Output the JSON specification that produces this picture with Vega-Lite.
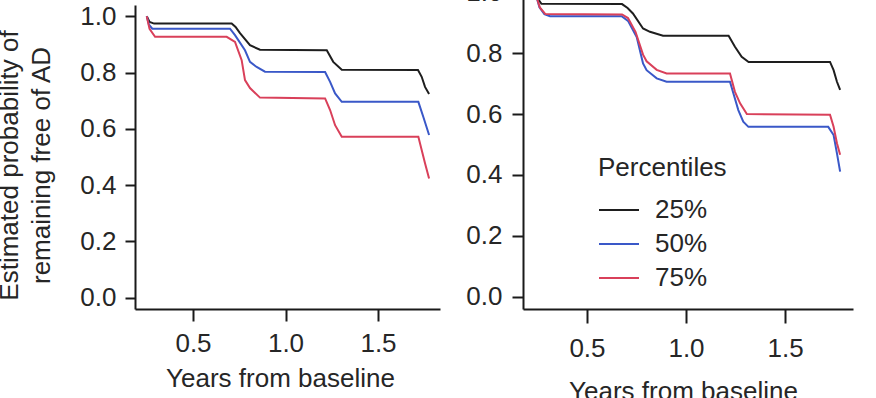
{
  "$schema": "https://vega.github.io/schema/vega-lite/v6.json",
  "autosize": "none",
  "width": 718,
  "height": 304,
  "padding": {"left": 135, "top": 5, "right": 23, "bottom": 89},
  "background": "white",
  "config": {
    "view": {"stroke": null},
    "font": "Liberation Sans",
    "axis": {
      "grid": false,
      "domainColor": "#1a1a1a",
      "domainWidth": 2,
      "tickColor": "#1a1a1a",
      "tickWidth": 2,
      "labelFont": "Liberation Sans",
      "labelFontSize": 26,
      "labelColor": "#262626",
      "titleFont": "Liberation Sans",
      "titleFontSize": 26,
      "titleFontWeight": "normal",
      "titleColor": "#262626"
    }
  },
  "datasets": {
    "curves": [
      {"panel": "A", "pct": "25%", "x": 0.25, "y": 1.0},
      {"panel": "A", "pct": "25%", "x": 0.265, "y": 0.98},
      {"panel": "A", "pct": "25%", "x": 0.29, "y": 0.974},
      {"panel": "A", "pct": "25%", "x": 0.709, "y": 0.974},
      {"panel": "A", "pct": "25%", "x": 0.73, "y": 0.962},
      {"panel": "A", "pct": "25%", "x": 0.754, "y": 0.94},
      {"panel": "A", "pct": "25%", "x": 0.808, "y": 0.897},
      {"panel": "A", "pct": "25%", "x": 0.862, "y": 0.881},
      {"panel": "A", "pct": "25%", "x": 1.223, "y": 0.879},
      {"panel": "A", "pct": "25%", "x": 1.258, "y": 0.838},
      {"panel": "A", "pct": "25%", "x": 1.304, "y": 0.81},
      {"panel": "A", "pct": "25%", "x": 1.716, "y": 0.809},
      {"panel": "A", "pct": "25%", "x": 1.736, "y": 0.785},
      {"panel": "A", "pct": "25%", "x": 1.754, "y": 0.749},
      {"panel": "A", "pct": "25%", "x": 1.776, "y": 0.724},

      {"panel": "A", "pct": "50%", "x": 0.25, "y": 1.0},
      {"panel": "A", "pct": "50%", "x": 0.262, "y": 0.97},
      {"panel": "A", "pct": "50%", "x": 0.28, "y": 0.956},
      {"panel": "A", "pct": "50%", "x": 0.7, "y": 0.956},
      {"panel": "A", "pct": "50%", "x": 0.727, "y": 0.933},
      {"panel": "A", "pct": "50%", "x": 0.781, "y": 0.879},
      {"panel": "A", "pct": "50%", "x": 0.808, "y": 0.838},
      {"panel": "A", "pct": "50%", "x": 0.844, "y": 0.82},
      {"panel": "A", "pct": "50%", "x": 0.889, "y": 0.803},
      {"panel": "A", "pct": "50%", "x": 1.214, "y": 0.802},
      {"panel": "A", "pct": "50%", "x": 1.241, "y": 0.767},
      {"panel": "A", "pct": "50%", "x": 1.268, "y": 0.726},
      {"panel": "A", "pct": "50%", "x": 1.304, "y": 0.696},
      {"panel": "A", "pct": "50%", "x": 1.718, "y": 0.696},
      {"panel": "A", "pct": "50%", "x": 1.745, "y": 0.642},
      {"panel": "A", "pct": "50%", "x": 1.776, "y": 0.578},

      {"panel": "A", "pct": "75%", "x": 0.25, "y": 1.0},
      {"panel": "A", "pct": "75%", "x": 0.265, "y": 0.955},
      {"panel": "A", "pct": "75%", "x": 0.295, "y": 0.927},
      {"panel": "A", "pct": "75%", "x": 0.682, "y": 0.927},
      {"panel": "A", "pct": "75%", "x": 0.727, "y": 0.909},
      {"panel": "A", "pct": "75%", "x": 0.763, "y": 0.844},
      {"panel": "A", "pct": "75%", "x": 0.781, "y": 0.773},
      {"panel": "A", "pct": "75%", "x": 0.808, "y": 0.745},
      {"panel": "A", "pct": "75%", "x": 0.862, "y": 0.711},
      {"panel": "A", "pct": "75%", "x": 1.214, "y": 0.708},
      {"panel": "A", "pct": "75%", "x": 1.241, "y": 0.667},
      {"panel": "A", "pct": "75%", "x": 1.268, "y": 0.613},
      {"panel": "A", "pct": "75%", "x": 1.304, "y": 0.572},
      {"panel": "A", "pct": "75%", "x": 1.718, "y": 0.572},
      {"panel": "A", "pct": "75%", "x": 1.736, "y": 0.525},
      {"panel": "A", "pct": "75%", "x": 1.754, "y": 0.478},
      {"panel": "A", "pct": "75%", "x": 1.776, "y": 0.424},

      {"panel": "B", "pct": "25%", "x": 0.245, "y": 0.985},
      {"panel": "B", "pct": "25%", "x": 0.27, "y": 0.962},
      {"panel": "B", "pct": "25%", "x": 0.677, "y": 0.961},
      {"panel": "B", "pct": "25%", "x": 0.705, "y": 0.948},
      {"panel": "B", "pct": "25%", "x": 0.732, "y": 0.93},
      {"panel": "B", "pct": "25%", "x": 0.783, "y": 0.881},
      {"panel": "B", "pct": "25%", "x": 0.818, "y": 0.87},
      {"panel": "B", "pct": "25%", "x": 0.884, "y": 0.857},
      {"panel": "B", "pct": "25%", "x": 1.215, "y": 0.857},
      {"panel": "B", "pct": "25%", "x": 1.247, "y": 0.821},
      {"panel": "B", "pct": "25%", "x": 1.281, "y": 0.788},
      {"panel": "B", "pct": "25%", "x": 1.316, "y": 0.771},
      {"panel": "B", "pct": "25%", "x": 1.727, "y": 0.771},
      {"panel": "B", "pct": "25%", "x": 1.745, "y": 0.744},
      {"panel": "B", "pct": "25%", "x": 1.762, "y": 0.706},
      {"panel": "B", "pct": "25%", "x": 1.778, "y": 0.679},

      {"panel": "B", "pct": "50%", "x": 0.245, "y": 0.985},
      {"panel": "B", "pct": "50%", "x": 0.26, "y": 0.95},
      {"panel": "B", "pct": "50%", "x": 0.285, "y": 0.928},
      {"panel": "B", "pct": "50%", "x": 0.313, "y": 0.921},
      {"panel": "B", "pct": "50%", "x": 0.675, "y": 0.921},
      {"panel": "B", "pct": "50%", "x": 0.707, "y": 0.906},
      {"panel": "B", "pct": "50%", "x": 0.751, "y": 0.853},
      {"panel": "B", "pct": "50%", "x": 0.783, "y": 0.766},
      {"panel": "B", "pct": "50%", "x": 0.801, "y": 0.744},
      {"panel": "B", "pct": "50%", "x": 0.852, "y": 0.717},
      {"panel": "B", "pct": "50%", "x": 0.902, "y": 0.706},
      {"panel": "B", "pct": "50%", "x": 1.222, "y": 0.706},
      {"panel": "B", "pct": "50%", "x": 1.239, "y": 0.668},
      {"panel": "B", "pct": "50%", "x": 1.264, "y": 0.613},
      {"panel": "B", "pct": "50%", "x": 1.289, "y": 0.575},
      {"panel": "B", "pct": "50%", "x": 1.315, "y": 0.558},
      {"panel": "B", "pct": "50%", "x": 1.718, "y": 0.558},
      {"panel": "B", "pct": "50%", "x": 1.745, "y": 0.531},
      {"panel": "B", "pct": "50%", "x": 1.762, "y": 0.471},
      {"panel": "B", "pct": "50%", "x": 1.778, "y": 0.411},

      {"panel": "B", "pct": "75%", "x": 0.245, "y": 0.985},
      {"panel": "B", "pct": "75%", "x": 0.262, "y": 0.95},
      {"panel": "B", "pct": "75%", "x": 0.29, "y": 0.928},
      {"panel": "B", "pct": "75%", "x": 0.677, "y": 0.927},
      {"panel": "B", "pct": "75%", "x": 0.707, "y": 0.915},
      {"panel": "B", "pct": "75%", "x": 0.745, "y": 0.87},
      {"panel": "B", "pct": "75%", "x": 0.783, "y": 0.795},
      {"panel": "B", "pct": "75%", "x": 0.801, "y": 0.773},
      {"panel": "B", "pct": "75%", "x": 0.852, "y": 0.745},
      {"panel": "B", "pct": "75%", "x": 0.902, "y": 0.733},
      {"panel": "B", "pct": "75%", "x": 1.222, "y": 0.733},
      {"panel": "B", "pct": "75%", "x": 1.247, "y": 0.673},
      {"panel": "B", "pct": "75%", "x": 1.273, "y": 0.635},
      {"panel": "B", "pct": "75%", "x": 1.307, "y": 0.6},
      {"panel": "B", "pct": "75%", "x": 1.727, "y": 0.598},
      {"panel": "B", "pct": "75%", "x": 1.745, "y": 0.558},
      {"panel": "B", "pct": "75%", "x": 1.762, "y": 0.504},
      {"panel": "B", "pct": "75%", "x": 1.778, "y": 0.466}
    ]
  },
  "data": {"name": "curves"},
  "layer": [
    {
      "transform": [{"filter": "datum.panel === 'A'"}],
      "mark": {"type": "line", "strokeWidth": 2},
      "encoding": {
        "x": {
          "field": "x",
          "type": "quantitative",
          "scale": {"domain": [0.1865, 1.835], "nice": false, "zero": false, "range": [0, 305]},
          "axis": {
            "orient": "bottom",
            "values": [0.5, 1.0, 1.5],
            "format": ".1f",
            "tickSize": 12,
            "labelPadding": 9,
            "title": "Years from baseline",
            "titleX": 145,
            "titleY": 56,
            "titleBaseline": "top",
            "titleAnchor": null
          }
        },
        "y": {
          "field": "y",
          "type": "quantitative",
          "scale": {"domain": [-0.04, 1.04], "nice": false, "zero": false, "range": [304, 0]},
          "axis": {
            "orient": "left",
            "values": [0, 0.2, 0.4, 0.6, 0.8, 1.0],
            "format": ".1f",
            "tickSize": 10,
            "labelPadding": 9,
            "title": ["Estimated probability of", "remaining free of AD"],
            "titleX": -118,
            "titleY": 160,
            "titleAngle": -90,
            "titleAlign": "center",
            "titleBaseline": "alphabetic",
            "titleLineHeight": 32
          }
        },
        "color": {
          "field": "pct",
          "type": "nominal",
          "scale": {"domain": ["25%", "50%", "75%"], "range": ["#1e1e1e", "#3a58c8", "#d9405a"]},
          "legend": {
            "title": "Percentiles",
            "orient": "none",
            "legendX": 463,
            "legendY": 150,
            "padding": 0,
            "titleFont": "Liberation Sans",
            "titleFontSize": 26,
            "titleFontWeight": "normal",
            "titleColor": "#262626",
            "titlePadding": 8,
            "labelFont": "Liberation Sans",
            "labelFontSize": 26,
            "labelColor": "#262626",
            "labelOffset": 15,
            "symbolType": "stroke",
            "symbolSize": 1600,
            "symbolStrokeWidth": 2,
            "rowPadding": -11
          }
        },
        "order": {"field": "x", "type": "quantitative"}
      }
    },
    {
      "transform": [{"filter": "datum.panel === 'B'"}],
      "mark": {"type": "line", "strokeWidth": 2},
      "encoding": {
        "x": {
          "field": "x",
          "type": "quantitative",
          "scale": {"domain": [0.177, 1.843], "nice": false, "zero": false, "range": [388, 718]},
          "axis": {
            "orient": "bottom",
            "values": [0.5, 1.0, 1.5],
            "format": ".1f",
            "tickSize": 14,
            "labelPadding": 12,
            "title": "Years from baseline",
            "titleX": 548,
            "titleY": 69,
            "titleBaseline": "top",
            "titleAnchor": null
          }
        },
        "y": {
          "field": "y",
          "type": "quantitative",
          "scale": {"domain": [-0.04, 1.04], "nice": false, "zero": false, "range": [304, -25]},
          "axis": {
            "orient": "left",
            "offset": -388,
            "values": [0, 0.2, 0.4, 0.6, 0.8, 1.0],
            "format": ".1f",
            "tickSize": 11,
            "labelPadding": 10,
            "title": null
          }
        },
        "color": {"field": "pct", "type": "nominal"},
        "order": {"field": "x", "type": "quantitative"}
      }
    }
  ],
  "resolve": {
    "scale": {"x": "independent", "y": "independent", "color": "shared"},
    "axis": {"x": "independent", "y": "independent"}
  }
}
